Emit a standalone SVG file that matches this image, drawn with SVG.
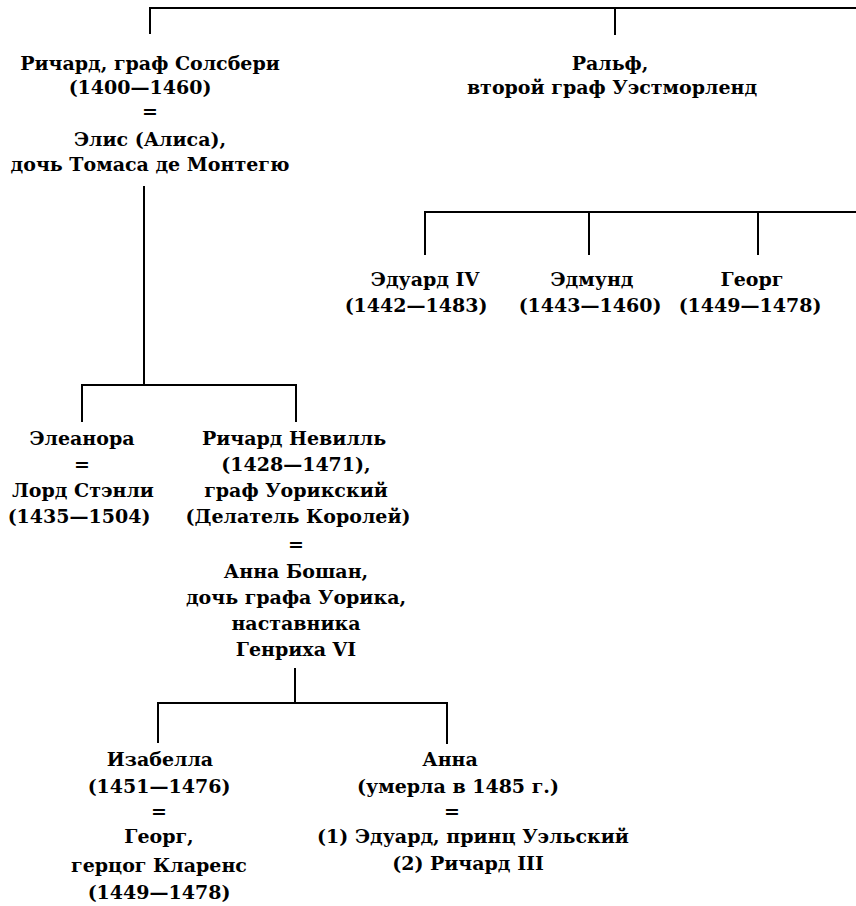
<svg xmlns="http://www.w3.org/2000/svg" width="856" height="906" viewBox="0 0 856 906">
<style>
text{font-family:"DejaVu Serif","Liberation Serif",serif;font-weight:bold;font-size:19px;fill:#000;text-anchor:middle}
.c line,.c polyline{stroke:#000;stroke-width:2;fill:none}
</style>
<rect width="856" height="906" fill="#fff"/>
<g class="c" id="connectors">
<line x1="150" y1="8" x2="856" y2="8"/>
<line x1="150" y1="7" x2="150" y2="34"/>
<line x1="615" y1="7" x2="615" y2="35"/>
<line x1="144" y1="186" x2="144" y2="385"/>
<polyline points="82,422 82,385 296,385 296,422"/>
<line x1="425" y1="212" x2="856" y2="212"/>
<line x1="425" y1="211" x2="425" y2="255"/>
<line x1="589" y1="211" x2="589" y2="255"/>
<line x1="758" y1="211" x2="758" y2="255"/>
<line x1="295" y1="668" x2="295" y2="703"/>
<polyline points="158,743 158,703 447,703 447,744"/>
</g>
<g id="richard-salisbury">
<text x="150" y="70">Ричард, граф Солсбери</text>
<text x="140" y="94">(1400—1460)</text>
<text x="150" y="118">=</text>
<text x="150" y="146">Элис (Алиса),</text>
<text x="150" y="171">дочь Томаса де Монтегю</text>
</g>
<g id="ralph">
<text x="610" y="70">Ральф,</text>
<text x="612" y="94">второй граф Уэстморленд</text>
</g>
<g id="edward-iv">
<text x="425" y="286">Эдуард IV</text>
<text x="416" y="312">(1442—1483)</text>
</g>
<g id="edmund">
<text x="592" y="286">Эдмунд</text>
<text x="590" y="312">(1443—1460)</text>
</g>
<g id="george">
<text x="752" y="286">Георг</text>
<text x="750" y="312">(1449—1478)</text>
</g>
<g id="eleanor">
<text x="82" y="445">Элеанора</text>
<text x="82" y="471">=</text>
<text x="83" y="497">Лорд Стэнли</text>
<text x="79" y="523">(1435—1504)</text>
</g>
<g id="richard-neville">
<text x="294" y="445">Ричард Невилль</text>
<text x="296" y="471">(1428—1471),</text>
<text x="296" y="497">граф Уорикский</text>
<text x="298" y="523">(Делатель Королей)</text>
<text x="296" y="551">=</text>
<text x="296" y="578">Анна Бошан,</text>
<text x="296" y="604">дочь графа Уорика,</text>
<text x="296" y="630">наставника</text>
<text x="296" y="656">Генриха VI</text>
</g>
<g id="isabella">
<text x="160" y="766">Изабелла</text>
<text x="159" y="793">(1451—1476)</text>
<text x="159" y="818">=</text>
<text x="159" y="843">Георг,</text>
<text x="159" y="872">герцог Кларенс</text>
<text x="159" y="899">(1449—1478)</text>
</g>
<g id="anna">
<text x="450" y="766">Анна</text>
<text x="458" y="793">(умерла в 1485 г.)</text>
<text x="452" y="818">=</text>
<text x="473" y="843">(1) Эдуард, принц Уэльский</text>
<text x="468" y="870">(2) Ричард III</text>
</g>
</svg>
